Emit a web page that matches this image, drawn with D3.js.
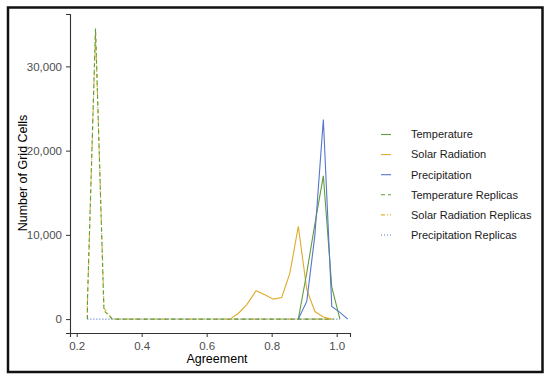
<!DOCTYPE html>
<html>
<head>
<meta charset="utf-8">
<script src="https://cdn.jsdelivr.net/npm/d3@7"></script>
<style>
  body { margin: 0; background: #fff; }
  svg { font-family: "Liberation Sans", Arial, sans-serif; }
</style>
</head>
<body>
<svg id="chart" width="550" height="380"></svg>
<script>
// values, [agreement, number of grid cells]
const temperature = [[0.882, 0], [0.908, 5500], [0.933, 11300], [0.959, 17000], [0.985, 3800], [1.01, 0]];
const solarRadiation = [[0.672, 0], [0.698, 700], [0.723, 1700], [0.752, 3360], [0.779, 2900], [0.805, 2370],
  [0.831, 2570], [0.856, 5460], [0.882, 11000], [0.908, 3500], [0.933, 900], [0.959, 250], [0.985, 0]];
const precipitation = [[0.882, 0], [0.908, 2100], [0.933, 10000], [0.959, 23700], [0.985, 1500], [1.01, 800], [1.034, 0]];
const temperatureReplicas = [[0.233, 0], [0.233, 1900], [0.258, 34500], [0.284, 1000], [0.31, 0], [0.99, 0]];
const solarRadiationReplicas = [[0.233, 0], [0.233, 1700], [0.258, 34300], [0.284, 1300], [0.31, 0], [0.99, 0]];
const precipitationReplicas = [[0.233, 0], [0.258, 0], [0.31, 0], [1.01, 0]];

const seriesNames = ["Temperature", "Solar Radiation", "Precipitation",
  "Temperature Replicas", "Solar Radiation Replicas", "Precipitation Replicas"];
const seriesData = [temperature, solarRadiation, precipitation,
  temperatureReplicas, solarRadiationReplicas, precipitationReplicas];

const xTicks = [0.2, 0.4, 0.6, 0.8, 1.0];
const yTicks = [0, 10000, 20000, 30000];

const colors = ["#5f9e3a", "#e0ab2c", "#5576cc", "#5f9e3a", "#d8b63a", "#5576cc"];
const dashes = [null, null, null, "4,3", "4,2,1,2", "1,2"];

let svg = d3.select("#chart");

// outer frame
svg.append("rect")
  .attr("x", 8).attr("y", 7.5)
  .attr("width", 534.5).attr("height", 364.5)
  .attr("fill", "none")
  .attr("stroke", "#111")
  .attr("stroke-width", 2.5);

let plotLeft = 70, plotRight = 350, plotTop = 14, plotBottom = 333;

let x = d3.scaleLinear().domain([0.1795, 1.041]).range([plotLeft, plotRight]);
let y = d3.scaleLinear().domain([-1650, 36220]).range([plotBottom, plotTop]);

let xAxis = svg.append("g")
  .attr("transform", `translate(0,${plotBottom})`)
  .call(d3.axisBottom(x).tickValues(xTicks).tickSize(4).tickPadding(4.5)
    .tickFormat(d3.format(".1f")));

let yAxis = svg.append("g")
  .attr("transform", `translate(${plotLeft},0)`)
  .call(d3.axisLeft(y).tickValues(yTicks).tickSize(4).tickPadding(4)
    .tickFormat(d3.format(",")));

[xAxis, yAxis].forEach(function (g) {
  g.select(".domain").attr("stroke", "#333").attr("stroke-width", 1.1);
  g.selectAll(".tick line").attr("stroke", "#333");
  g.selectAll(".tick text").attr("fill", "#4d4d4d").attr("font-size", 11.5)
    .attr("font-family", "Liberation Sans, Arial, sans-serif");
});

svg.append("text")
  .attr("x", 217)
  .attr("y", 363)
  .attr("text-anchor", "middle")
  .attr("font-size", 12.5)
  .text("Agreement");

svg.append("text")
  .attr("transform", "translate(26.5,173) rotate(-90)")
  .attr("text-anchor", "middle")
  .attr("font-size", 12.5)
  .text("Number of Grid Cells");

let line = d3.line()
  .x(function (d) { return x(d[0]); })
  .y(function (d) { return y(d[1]); });

// replicas first so the solid lines sit on top
let order = [5, 4, 3, 1, 0, 2];
svg.append("g")
  .selectAll("path")
  .data(order)
  .enter()
  .append("path")
  .attr("d", function (i) { return line(seriesData[i]); })
  .attr("fill", "none")
  .attr("stroke", function (i) { return colors[i]; })
  .attr("stroke-width", 1.1)
  .attr("stroke-dasharray", function (i) { return dashes[i]; });

// legend
let legend = svg.append("g")
  .selectAll("g")
  .data(seriesNames)
  .enter()
  .append("g")
  .attr("transform", function (d, i) { return `translate(381,${134.5 + i * 20.1})`; });

legend.append("line")
  .attr("x1", 0).attr("x2", 10)
  .attr("stroke", function (d, i) { return colors[i]; })
  .attr("stroke-width", 1.1)
  .attr("stroke-dasharray", function (d, i) { return dashes[i]; });

legend.append("text")
  .attr("x", 30)
  .attr("dy", "0.35em")
  .attr("font-size", 11)
  .attr("fill", "#1a1a1a")
  .text(function (d) { return d; });
</script>
</body>
</html>
